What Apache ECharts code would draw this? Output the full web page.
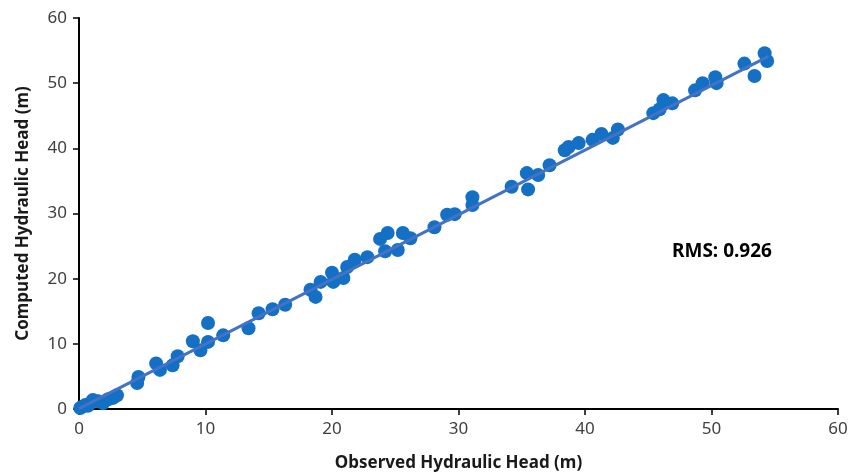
<!DOCTYPE html>
<html>
<head>
<meta charset="utf-8">
<script src="https://cdn.jsdelivr.net/npm/echarts@6/dist/echarts.min.js"></script>
<style>
  html, body { margin: 0; padding: 0; background: #fff; }
  #chart { width: 862px; height: 475px; }
</style>
</head>
<body>
<div id="chart"></div>
<script>
// observed vs computed head (m)
const observed = [
  0.1, 0.3, 0.5, 0.7, 0.9, 1.1, 1.5, 1.9, 2.3, 2.7, 3.0,
  4.6, 4.7, 6.1, 6.4, 7.4, 7.8, 9.0, 9.6, 10.2, 10.2, 11.4, 13.4, 14.2, 15.3,
  16.3, 18.3, 18.7, 19.1, 20.0, 20.1, 20.9, 21.2, 21.8, 22.8,
  23.8, 24.4, 24.2, 25.2, 25.6, 26.2, 28.1, 29.1, 29.7, 31.1, 31.1,
  34.2, 35.5, 35.4, 36.3, 37.2, 38.4, 38.7, 39.5, 40.6, 41.3, 42.2, 42.6,
  45.4, 45.9, 46.2, 46.9, 48.7, 49.3, 50.3, 50.4, 52.6, 53.4, 54.2, 54.4
];
const computed = [
  0.15, 0.4, 0.6, 0.5, 0.9, 1.4, 1.2, 0.9, 1.5, 1.7, 2.1,
  4.0, 4.9, 7.0, 6.0, 6.7, 8.1, 10.4, 9.0, 13.2, 10.3, 11.3, 12.4, 14.7, 15.3,
  16.0, 18.3, 17.2, 19.5, 20.9, 19.5, 20.1, 21.8, 22.9, 23.3,
  26.1, 27.0, 24.2, 24.4, 27.0, 26.2, 27.9, 29.8, 29.9, 32.5, 31.3,
  34.1, 33.7, 36.2, 35.9, 37.4, 39.7, 40.2, 40.8, 41.3, 42.2, 41.6, 42.9,
  45.4, 46.0, 47.4, 46.9, 48.9, 50.0, 50.9, 50.0, 53.0, 51.1, 54.6, 53.4
];
const trendX = [0, 54.5];
const trendY = [0.05, 54.1];
const rmsText = "RMS: 0.926";

let points = observed.map((v, i) => [v, computed[i]]);
let trend = trendX.map((v, i) => [v, trendY[i]]);

let myChart = echarts.init(document.getElementById("chart"));
myChart.setOption({
  animation: false,
  grid: { left: 79, right: 24, top: 18, bottom: 66, outerBoundsMode: "none" },
  textStyle: { fontFamily: "Noto Sans" },
  xAxis: {
    type: "value",
    min: 0, max: 60, interval: 10,
    name: "Observed Hydraulic Head (m)",
    nameLocation: "middle",
    nameGap: 46,
    nameTextStyle: { fontSize: 17, fontWeight: "bold", color: "#1a1a1a" },
    splitLine: { show: false },
    axisLine: { lineStyle: { color: "#000", width: 2 } },
    axisTick: { lineStyle: { color: "#000", width: 1.5 }, length: 6 },
    axisLabel: { fontSize: 17, color: "#404040", margin: 12 }
  },
  yAxis: {
    type: "value",
    min: 0, max: 60, interval: 10,
    name: "Computed Hydraulic Head (m)",
    nameLocation: "middle",
    nameGap: 47,
    nameTextStyle: { fontSize: 17, fontWeight: "bold", color: "#1a1a1a" },
    splitLine: { show: false },
    axisLine: { show: true, lineStyle: { color: "#000", width: 2 } },
    axisTick: { show: true, lineStyle: { color: "#000", width: 1.5 }, length: 6 },
    axisLabel: { fontSize: 17, color: "#404040", margin: 12 }
  },
  series: [
    {
      type: "scatter",
      data: points,
      symbolSize: 14,
      itemStyle: { color: "#1470c4", opacity: 1 },
      z: 2
    },
    {
      type: "line",
      data: trend,
      symbol: "none",
      lineStyle: { color: "#4472C4", width: 3 },
      z: 3
    }
  ],
  graphic: [
    {
      type: "text",
      left: 672, top: 242,
      style: {
        text: rmsText,
        fontFamily: "Noto Sans",
        fontSize: 19,
        fontWeight: "bold",
        fill: "#000"
      }
    }
  ]
});
</script>
</body>
</html>
